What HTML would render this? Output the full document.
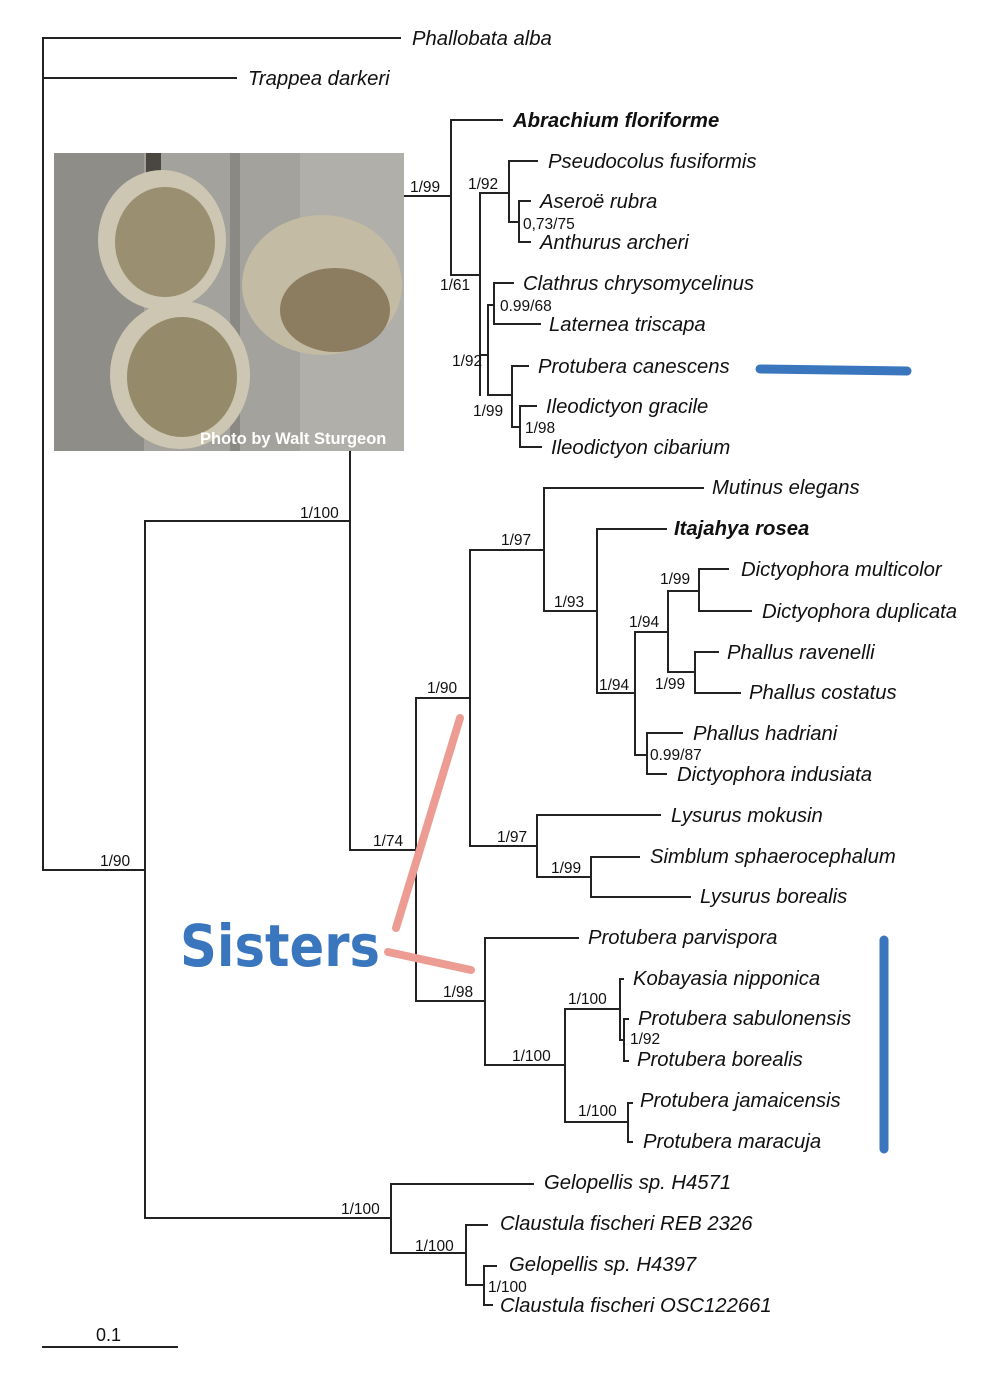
<!DOCTYPE html>
<html><head><meta charset="utf-8"><style>
html,body{margin:0;padding:0;background:#fff}
svg{display:block}
.t{font-family:"Liberation Sans",sans-serif;font-style:italic;font-size:20.3px;fill:#111}
.b{font-weight:bold}
.s{font-family:"Liberation Sans",sans-serif;font-size:15.5px;fill:#111}
</style></head><body>
<svg width="1000" height="1391" viewBox="0 0 1000 1391" xmlns="http://www.w3.org/2000/svg">
<g stroke="#222" stroke-width="2" fill="none" stroke-linecap="square">
<path d="M43 38V870M43 38H400M43 78H236M43 870H145M145 521V1218M145 521H350M350 196V850M404 196H451M451 120V275M451 120H502M451 275H480M480 193V395M480 193H509M509 161V222M509 161H537M509 222H519M519 201V242M519 201H530M519 242H530M480 355H488M488 305V395M488 305H494M494 283V324M494 283H513M494 324H540M488 395H512M512 366V427M512 366H528M512 427H520M520 406V447M520 406H536M520 447H541"/>
<path d="M350 850H416M416 698V1001M416 698H470M470 550V846M470 550H544M544 488V611M544 488H703M544 611H597M597 529V693M597 529H666M597 693H635M635 632V755M635 632H668M668 591V672M668 591H699M699 569V611M699 569H728M699 611H751M668 672H695M695 652V693M695 652H718M695 693H740M635 755H647M647 733V774M647 733H682M647 774H666"/>
<path d="M470 846H537M537 815V877M537 815H660M537 877H591M591 857V897M591 857H639M591 897H690"/>
<path d="M416 1001H485M485 938V1065M485 938H578M485 1065H565M565 1009V1122M565 1009H620M620 979V1040M620 979H623M620 1040H624M624 1019V1061M624 1019H628M624 1061H628M565 1122H628M628 1103V1142M628 1103H632M628 1142H632"/>
<path d="M145 1218H391M391 1184V1253M391 1184H533M391 1253H466M466 1225V1285M466 1225H487M466 1285H484M484 1266V1305M484 1266H496M484 1305H492"/>
<path d="M43 1347H177"/>
</g>
<!-- photo -->
<rect x="54" y="153" width="350" height="298" fill="#a3a29c"/>
<rect x="54" y="153" width="90" height="298" fill="#8e8d88"/>
<rect x="146" y="153" width="15" height="140" fill="#4a4640"/>
<rect x="230" y="153" width="10" height="298" fill="#8a8983"/>
<rect x="300" y="153" width="104" height="298" fill="#b0afaa"/>
<ellipse cx="162" cy="240" rx="64" ry="70" fill="#cdc6b2"/>
<ellipse cx="165" cy="242" rx="50" ry="55" fill="#9a8f70"/>
<ellipse cx="180" cy="375" rx="70" ry="74" fill="#cdc6b2"/>
<ellipse cx="182" cy="377" rx="55" ry="60" fill="#958a6a"/>
<ellipse cx="322" cy="285" rx="80" ry="70" fill="#c4bba4"/>
<ellipse cx="335" cy="310" rx="55" ry="42" fill="#7e6e50" opacity="0.8"/>
<text x="200" y="444" font-family="Liberation Sans,sans-serif" font-weight="bold" font-size="16.5" fill="#fff">Photo by Walt Sturgeon</text>
<!-- taxa -->
<g class="t">
<text x="412" y="45">Phallobata alba</text>
<text x="248" y="85">Trappea darkeri</text>
<text x="513" y="127" class="t b">Abrachium floriforme</text>
<text x="548" y="168">Pseudocolus fusiformis</text>
<text x="540" y="208">Aseroë rubra</text>
<text x="540" y="249">Anthurus archeri</text>
<text x="523" y="290">Clathrus chrysomycelinus</text>
<text x="549" y="331">Laternea triscapa</text>
<text x="538" y="373">Protubera canescens</text>
<text x="546" y="413">Ileodictyon gracile</text>
<text x="551" y="454">Ileodictyon cibarium</text>
<text x="712" y="494">Mutinus elegans</text>
<text x="674" y="535" class="t b">Itajahya rosea</text>
<text x="741" y="576">Dictyophora multicolor</text>
<text x="762" y="618">Dictyophora duplicata</text>
<text x="727" y="659">Phallus ravenelli</text>
<text x="749" y="699">Phallus costatus</text>
<text x="693" y="740">Phallus hadriani</text>
<text x="677" y="781">Dictyophora indusiata</text>
<text x="671" y="822">Lysurus mokusin</text>
<text x="650" y="863">Simblum sphaerocephalum</text>
<text x="700" y="903">Lysurus borealis</text>
<text x="588" y="944">Protubera parvispora</text>
<text x="633" y="985">Kobayasia nipponica</text>
<text x="638" y="1025">Protubera sabulonensis</text>
<text x="637" y="1066">Protubera borealis</text>
<text x="640" y="1107">Protubera jamaicensis</text>
<text x="643" y="1148">Protubera maracuja</text>
<text x="544" y="1189">Gelopellis sp. H4571</text>
<text x="500" y="1230">Claustula fischeri REB 2326</text>
<text x="509" y="1271">Gelopellis sp. H4397</text>
<text x="500" y="1312">Claustula fischeri OSC122661</text>
</g>
<g class="s">
<text x="410" y="192">1/99</text>
<text x="468" y="189">1/92</text>
<text x="523" y="229">0,73/75</text>
<text x="440" y="290">1/61</text>
<text x="500" y="311">0.99/68</text>
<text x="452" y="366">1/92</text>
<text x="473" y="416">1/99</text>
<text x="525" y="433">1/98</text>
<text x="300" y="518">1/100</text>
<text x="501" y="545">1/97</text>
<text x="554" y="607">1/93</text>
<text x="660" y="584">1/99</text>
<text x="629" y="627">1/94</text>
<text x="599" y="690">1/94</text>
<text x="655" y="689">1/99</text>
<text x="427" y="693">1/90</text>
<text x="650" y="760">0.99/87</text>
<text x="373" y="846">1/74</text>
<text x="497" y="842">1/97</text>
<text x="551" y="873">1/99</text>
<text x="100" y="866">1/90</text>
<text x="443" y="997">1/98</text>
<text x="568" y="1004">1/100</text>
<text x="630" y="1044">1/92</text>
<text x="512" y="1061">1/100</text>
<text x="578" y="1116">1/100</text>
<text x="341" y="1214">1/100</text>
<text x="415" y="1251">1/100</text>
<text x="488" y="1292">1/100</text>
<text x="96" y="1341" font-size="18">0.1</text>
</g>
<!-- annotations -->
<g stroke-linecap="round">
<line x1="760" y1="369" x2="907" y2="371" stroke="#3a76bd" stroke-width="9"/>
<line x1="884" y1="940" x2="884" y2="1149" stroke="#3a76bd" stroke-width="9"/>
<line x1="460" y1="718" x2="396" y2="928" stroke="#ec9c92" stroke-width="8"/>
<line x1="388" y1="952" x2="471" y2="970" stroke="#ec9c92" stroke-width="8"/>
</g>
<text x="180" y="966" font-family="DejaVu Sans,sans-serif" font-weight="bold" font-size="58" fill="#3a76bd" textLength="200" lengthAdjust="spacingAndGlyphs">Sisters</text>
</svg>
</body></html>
